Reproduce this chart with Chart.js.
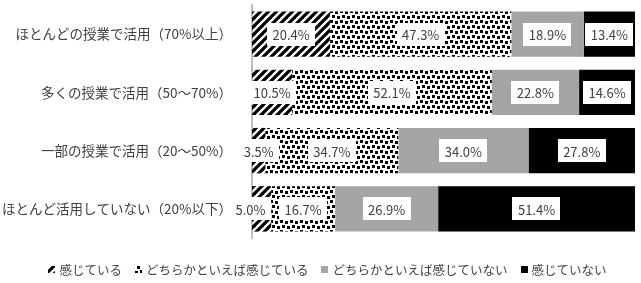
<!DOCTYPE html>
<html lang="ja">
<head>
<meta charset="utf-8">
<script src="https://cdn.jsdelivr.net/npm/chart.js@4/dist/chart.umd.min.js"></script>
<style>
  html, body { margin: 0; padding: 0; background: #fff; }
  #wrap { width: 641px; height: 283px; position: relative; }
</style>
</head>
<body>
<div id="wrap"><canvas id="grafico"></canvas></div>
<script>
// dados
const categorias = [
    'ほとんどの授業で活用（70%以上）',
    '多くの授業で活用（50～70%）',
    '一部の授業で活用（20～50%）',
    'ほとんど活用していない（20%以下）'
];
const seriesNomes = ['感じている', 'どちらかといえば感じている', 'どちらかといえば感じていない', '感じていない'];
const sentem = [20.4, 10.5, 3.5, 5.0];
const sentemUmPouco = [47.3, 52.1, 34.7, 16.7];
const naoSentemMuito = [18.9, 22.8, 34.0, 26.9];
const naoSentem = [13.4, 14.6, 27.8, 51.4];

const corTexto = '#404040';
const fonte = "'Noto Sans CJK JP', 'Noto Sans', sans-serif";

// padrões de preenchimento (listras e confete)
function padraoListras() {
    const c = document.createElement('canvas');
    c.width = 8; c.height = 8;
    const g = c.getContext('2d');
    g.strokeStyle = '#000';
    g.lineWidth = 3.2;
    g.lineCap = 'square';
    [[-8, 8, 8, -8], [0, 8, 8, 0], [0, 16, 16, 0]].forEach(([x1, y1, x2, y2]) => {
        g.beginPath(); g.moveTo(x1, y1); g.lineTo(x2, y2); g.stroke();
    });
    return g.createPattern(c, 'repeat');
}

function padraoConfete() {
    const c = document.createElement('canvas');
    c.width = 10; c.height = 10;
    const g = c.getContext('2d');
    g.fillStyle = '#fff';
    g.fillRect(0, 0, 10, 10);
    g.fillStyle = '#000';
    [[0, 0], [5, 1], [2, 5], [7, 6]].forEach(([x, y]) => g.fillRect(x, y, 3, 3));
    return g.createPattern(c, 'repeat');
}

const preenchimentos = [padraoListras(), padraoConfete(), '#A5A5A5', '#000000'];
const valores = [sentem, sentemUmPouco, naoSentemMuito, naoSentem];

// rótulos com caixa branca, empurrando para a esquerda quando se sobrepõem
const rotulosPlugin = {
    id: 'rotulos',
    afterDatasetsDraw(chart) {
        const ctx = chart.ctx;
        ctx.save();
        ctx.font = `13px ${fonte}`;
        ctx.textAlign = 'center';
        ctx.textBaseline = 'middle';
        const folga = 8, altura = 23;
        categorias.forEach((_, i) => {
            const caixas = chart.data.datasets.map((ds, d) => {
                const el = chart.getDatasetMeta(d).data[i];
                const texto = ds.data[i].toFixed(1) + '%';
                const w = ctx.measureText(texto).width + 11;
                return { texto, cx: (el.x + el.base) / 2, cy: el.y, w };
            });
            for (let k = caixas.length - 2; k >= 0; k--) {
                const a = caixas[k], b = caixas[k + 1];
                const limite = b.cx - b.w / 2 - folga;
                if (a.cx + a.w / 2 > limite) a.cx = limite - a.w / 2;
            }
            caixas.forEach(b => {
                ctx.fillStyle = '#fff';
                ctx.fillRect(Math.round(b.cx - b.w / 2), Math.round(b.cy - altura / 2), Math.round(b.w), altura);
                ctx.fillStyle = corTexto;
                ctx.fillText(b.texto, b.cx, b.cy + 1);
            });
        });
        ctx.restore();
    }
};

// legenda desenhada à mão (caixinha 7px, texto logo ao lado)
const legendaPlugin = {
    id: 'legendaManual',
    afterDraw(chart) {
        const ctx = chart.ctx;
        ctx.save();
        ctx.font = `12.5px ${fonte}`;
        ctx.textBaseline = 'middle';
        const caixa = 7, espacoTexto = 4, espacoItem = 13;
        const larguras = chart.data.datasets.map(ds => caixa + espacoTexto + ctx.measureText(ds.label).width);
        const total = larguras.reduce((a, b) => a + b, 0) + espacoItem * (larguras.length - 1);
        let x = (chart.width - total) / 2 + 7;
        const y = 270;
        chart.data.datasets.forEach((ds, d) => {
            ctx.fillStyle = ds.backgroundColor;
            ctx.fillRect(Math.round(x), y - 4, caixa, caixa);
            ctx.fillStyle = corTexto;
            ctx.fillText(ds.label, x + caixa + espacoTexto, y);
            x += larguras[d] + espacoItem;
        });
        ctx.restore();
    }
};

new Chart('grafico', {
    type: 'bar',
    data: {
        labels: categorias,
        datasets: seriesNomes.map((nome, d) => ({
            label: nome,
            data: valores[d],
            backgroundColor: preenchimentos[d],
            borderWidth: 0,
            categoryPercentage: 0.78,
            barPercentage: 1
        }))
    },
    options: {
        indexAxis: 'y',
        responsive: true,
        maintainAspectRatio: false,
        animation: false,
        layout: { padding: { top: 5, right: 6, bottom: 45, left: 0 } },
        plugins: {
            legend: { display: false },
            tooltip: { enabled: false }
        },
        scales: {
            x: {
                stacked: true, min: 0, max: 100, display: false
            },
            y: {
                stacked: true,
                afterFit: (s) => { s.width = 252; s.paddingTop = 0; s.paddingBottom = 0; },
                grid: { display: false, drawTicks: false },
                border: { display: true, color: '#BFBFBF', width: 2 },
                ticks: { color: corTexto, font: { family: fonte, size: 13.5 }, padding: 20 }
            }
        }
    },
    plugins: [rotulosPlugin, legendaPlugin]
});
</script>
</body>
</html>
